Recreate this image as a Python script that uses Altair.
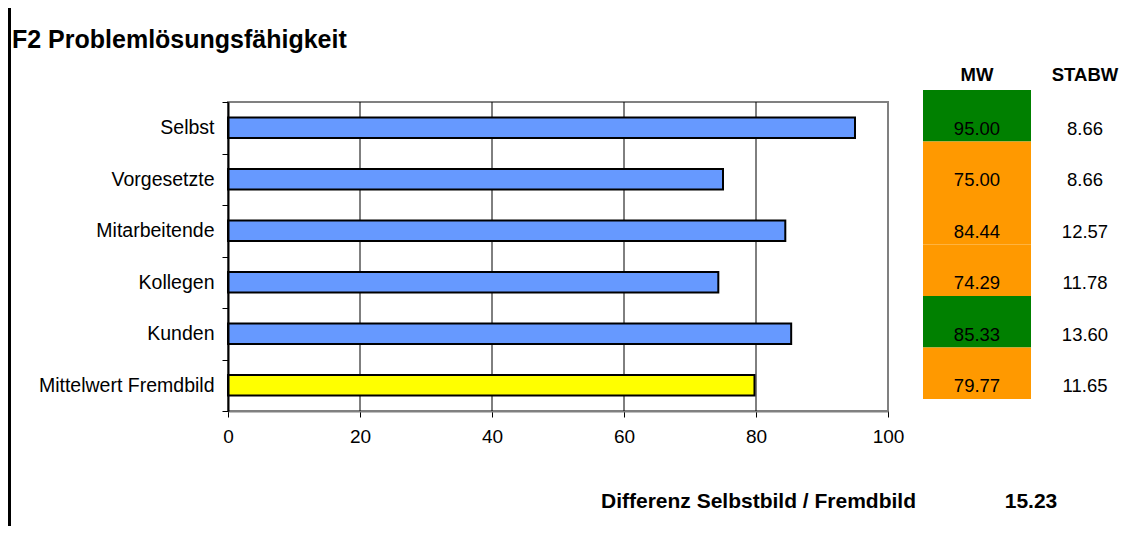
import altair as alt
import pandas as pd

# ---- data ----
categories = ["Selbst", "Vorgesetzte", "Mitarbeitende", "Kollegen", "Kunden", "Mittelwert Fremdbild"]
mw = [95.00, 75.00, 84.44, 74.29, 85.33, 79.77]
stabw = [8.66, 8.66, 12.57, 11.78, 13.60, 11.65]
bar_group = ["Einzeln", "Einzeln", "Einzeln", "Einzeln", "Einzeln", "Mittelwert"]
rating = ["hoch", "mittel", "mittel", "mittel", "hoch", "mittel"]
x_ticks = [0, 20, 40, 60, 80, 100]
grid_values = [20, 40, 60, 80]
title_text = ["F2 Problemlösungsfähigkeit"]
header_mw = ["MW"]
header_stabw = ["STABW"]
diff_label = ["Differenz Selbstbild / Fremdbild"]
diff_value = [15.23]

df = pd.DataFrame({"cat": categories, "mw": mw, "stabw": stabw,
                   "group": bar_group, "rating": rating})

FONT = "Liberation Sans"
W, H = 660, 309
PAD = {"left": 220, "top": 94, "right": 232, "bottom": 115}

x_scale = alt.Scale(domain=[0, 100], nice=False, zero=True)
x_axis = alt.Axis(values=x_ticks, title=None, grid=False, domainColor="#808080",
                  domainWidth=2, tickColor="black", tickSize=6, tickWidth=1,
                  labelFontSize=19, labelColor="black", labelPadding=10,
                  labelFont=FONT, labelFlush=False)
step_scale = alt.Scale(domain=categories, paddingInner=0, paddingOuter=0)

grid = alt.Chart(pd.DataFrame({"g": grid_values})).mark_rule(
    color="black", strokeWidth=1).encode(
    x=alt.X("g:Q", scale=x_scale, axis=x_axis))

bars = alt.Chart(df).mark_bar(stroke="black", strokeWidth=2).encode(
    x=alt.X("mw:Q", scale=x_scale, axis=x_axis),
    y=alt.Y("cat:N", sort=categories,
            scale=alt.Scale(domain=categories, paddingInner=0.6, paddingOuter=0.3),
            axis=None),
    color=alt.Color("group:N", scale=alt.Scale(domain=["Einzeln", "Mittelwert"],
                                               range=["#6699FF", "#FFFF00"]), legend=None),
)

cells = alt.Chart(df).mark_rect(yOffset=-12, y2Offset=-12).encode(
    x=alt.value(695), x2=alt.value(803),
    y=alt.Y("cat:N", sort=categories, scale=step_scale,
            axis=alt.Axis(orient="left", title=None, tickBand="extent",
                          domainColor="black", domainWidth=2, tickColor="black",
                          tickSize=6, tickWidth=1, labelFontSize=19.5, labelFont=FONT,
                          labelColor="black", labelPadding=8)),
    color=alt.Color("rating:N", scale=alt.Scale(domain=["hoch", "mittel"],
                                                range=["#008000", "#FF9900"]), legend=None),
)

mw_text = alt.Chart(df).mark_text(font=FONT, fontSize=18.5, color="black",
                                  align="center", baseline="middle", dy=1).encode(
    x=alt.value(749),
    y=alt.Y("cat:N", sort=categories, scale=step_scale, axis=None),
    text=alt.Text("mw:Q", format=".2f"))

sd_text = alt.Chart(df).mark_text(font=FONT, fontSize=18.5, color="black",
                                  align="center", baseline="middle", dy=1).encode(
    x=alt.value(857),
    y=alt.Y("cat:N", sort=categories, scale=step_scale, axis=None),
    text=alt.Text("stabw:Q", format=".2f"))

hdr_mw = alt.Chart(pd.DataFrame({"t": header_mw})).mark_text(
    font=FONT, fontSize=18.5, fontWeight="bold", color="black",
    align="center", baseline="alphabetic").encode(
    x=alt.value(749), y=alt.value(-21), text="t:N")

hdr_sd = alt.Chart(pd.DataFrame({"t": header_stabw})).mark_text(
    font=FONT, fontSize=18.5, fontWeight="bold", color="black",
    align="center", baseline="alphabetic").encode(
    x=alt.value(857), y=alt.value(-21), text="t:N")

title = alt.Chart(pd.DataFrame({"t": title_text})).mark_text(
    font=FONT, fontSize=25, fontWeight="bold", color="black",
    align="left", baseline="alphabetic").encode(
    x=alt.value(-216), y=alt.value(-54), text="t:N")

diff_lbl = alt.Chart(pd.DataFrame({"t": diff_label})).mark_text(
    font=FONT, fontSize=21, fontWeight="bold", color="black",
    align="right", baseline="alphabetic").encode(
    x=alt.value(688), y=alt.value(406), text="t:N")

diff_val = alt.Chart(pd.DataFrame({"v": diff_value})).mark_text(
    font=FONT, fontSize=21, fontWeight="bold", color="black",
    align="center", baseline="alphabetic").encode(
    x=alt.value(803), y=alt.value(406), text=alt.Text("v:Q", format=".2f"))

frame_left = alt.Chart(pd.DataFrame({"a": [0]})).mark_rule(
    color="black", strokeWidth=3).encode(
    x=alt.value(-218.5), y=alt.value(-PAD["top"]), y2=alt.value(H + PAD["bottom"]))

chart = alt.layer(
    grid, bars, cells, mw_text, sd_text, hdr_mw, hdr_sd, title, diff_lbl, diff_val, frame_left
).resolve_scale(
    y="independent", color="independent"
).properties(
    width=W, height=H,
    autosize=alt.AutoSizeParams(type="none"),
    padding=PAD,
    background="white",
).configure_view(
    stroke="#808080", strokeWidth=2
)

chart.save("out.html", embed_options={"renderer": "svg", "actions": False})
